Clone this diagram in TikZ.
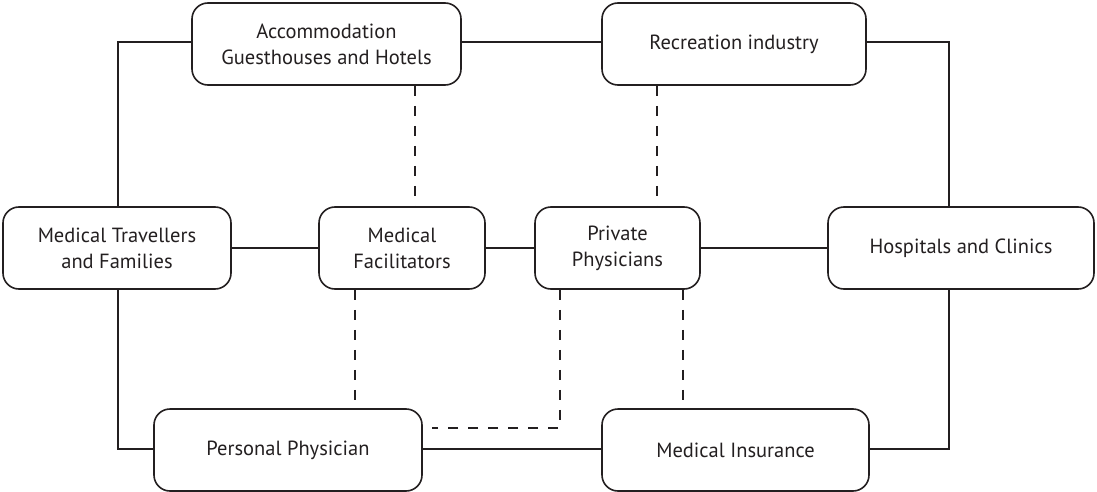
\documentclass[tikz,border=0pt]{standalone}
\usepackage{fontspec}
\setmainfont{PT Sans}
\definecolor{ink}{HTML}{231F20}
\begin{document}
\begin{tikzpicture}[x=1pt,y=-1pt,
  box/.style={draw=ink,line width=1.6pt,rounded corners=16pt,inner sep=0pt,align=center,
    font=\fontsize{20.5}{26}\selectfont,text=ink},
  solid link/.style={draw=ink,line width=2.6pt},
  dash link/.style={draw=ink,line width=2.6pt,dash pattern=on 10pt off 10pt}]
\useasboundingbox (0,0) rectangle (1097,492);
\node[box,minimum width=269pt,minimum height=82pt] (acc) at (326.5,44) {Accommodation\\Guesthouses and Hotels};
\node[box,minimum width=264pt,minimum height=82pt] (rec) at (734,44) {Recreation industry};
\node[box,minimum width=228pt,minimum height=82pt] (trav) at (117,248) {Medical Travellers\\and Families};
\node[box,minimum width=166pt,minimum height=82pt] (fac) at (402,248) {Medical\\Facilitators};
\node[box,minimum width=165pt,minimum height=82pt] (priv) at (617.5,248) {Private\\Physicians};
\node[box,minimum width=266pt,minimum height=82pt] (hosp) at (961,248) {Hospitals and Clinics};
\node[box,minimum width=268pt,minimum height=82pt] (pers) at (288,450) {Personal Physician};
\node[box,minimum width=267pt,minimum height=82pt] (ins) at (735.5,450) {Medical Insurance};
\coordinate (end) at (432,428);
% solid connectors
\draw[solid link] (acc.west |- 0,42) -- (118,42) -- (trav.north -| 118,0);
\draw[solid link] (trav.south -| 118,0) -- (118,449) -- (pers.west |- 0,449);
\draw[solid link] (acc.east |- 0,42) -- (rec.west |- 0,42);
\draw[solid link] (rec.east |- 0,42) -- (949,42) -- (hosp.north -| 949,0);
\draw[solid link] (hosp.south -| 949,0) -- (949,449) -- (ins.east |- 0,449);
\draw[solid link] (pers.east |- 0,449) -- (ins.west |- 0,449);
\draw[solid link] (trav.east) -- (fac.west);
\draw[solid link] (fac.east) -- (priv.west);
\draw[solid link] (priv.east) -- (hosp.west);
% dashed connectors
\draw[dash link] (acc.south -| 415,0) -- (fac.north -| 415,0);
\draw[dash link] (rec.south -| 657,0) -- (priv.north -| 657,0);
\draw[dash link] (fac.south -| 355,0) -- (pers.north -| 355,0);
\draw[dash link] (priv.south -| 560,0) -- (560,428) -- (end);
\draw[dash link] (priv.south -| 683,0) -- (ins.north -| 683,0);
\end{tikzpicture}
\end{document}
